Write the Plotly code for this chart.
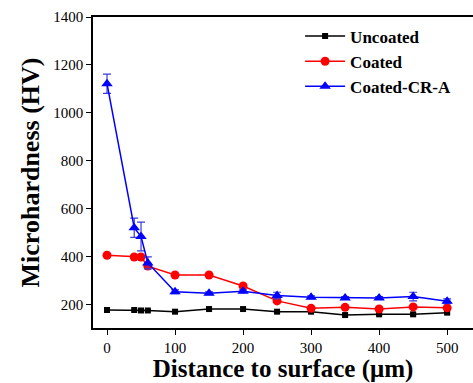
import plotly.graph_objects as go

distance = [0, 40, 50, 60, 100, 150, 200, 250, 300, 350, 400, 450, 500]
uncoated = [179, 179, 177, 177, 172, 183, 183, 172, 172, 158, 161, 161, 168]
coated = [407, 400, 400, 362, 325, 325, 279, 217, 186, 190, 183, 192, 188]
coated_cra = [1122, 522, 485, 375, 255, 249, 257, 239, 232, 229, 229, 235, 215]
cra_err = [40, 40, 60, 25, 8, 6, 6, 14, 6, 6, 6, 18, 10]
coated_err = [5, 4, 4, 6, 5, 5, 6, 6, 6, 5, 5, 8, 6]
uncoated_err = [3, 3, 3, 3, 3, 4, 4, 3, 3, 4, 4, 6, 5]

serif = "Liberation Serif"

fig = go.Figure()
fig.add_trace(go.Scatter(
    x=distance, y=uncoated, name="Uncoated", mode="lines+markers",
    line=dict(color="black", width=1.5),
    marker=dict(symbol="square", size=6, color="black"),
    error_y=dict(type="data", array=uncoated_err, color="black", thickness=1, width=3),
))
fig.add_trace(go.Scatter(
    x=distance, y=coated, name="Coated", mode="lines+markers",
    line=dict(color="red", width=1.5),
    marker=dict(symbol="circle", size=9, color="red"),
    error_y=dict(type="data", array=coated_err, color="red", thickness=1, width=3),
))
fig.add_trace(go.Scatter(
    x=distance, y=coated_cra, name="Coated-CR-A", mode="lines+markers",
    line=dict(color="blue", width=1.5),
    marker=dict(symbol="triangle-up", size=10, color="blue"),
    error_y=dict(type="data", array=cra_err, color="#3a3adf", thickness=1.2, width=4),
))

fig.update_layout(
    width=473, height=383,
    margin=dict(l=93, r=0, t=17, b=55),
    paper_bgcolor="white", plot_bgcolor="white",
    font=dict(family=serif, color="black", size=15),
    showlegend=True,
    legend=dict(
        x=0.545, y=0.995, xanchor="left", yanchor="top",
        bgcolor="rgba(0,0,0,0)",
        font=dict(family=serif, size=17, color="black", weight="bold"),
        tracegroupgap=0, itemwidth=40,
    ),
    xaxis=dict(
        range=[-20.6, 538], tickvals=[0, 100, 200, 300, 400, 500],
        showgrid=False, zeroline=False,
        showline=True, linecolor="black", linewidth=1.5, mirror=True,
        ticks="outside", ticklen=5, tickcolor="black", tickwidth=1.2,
        tickfont=dict(family=serif, size=15, color="black"),
        title=dict(text="Distance to surface (μm)", standoff=5,
                   font=dict(family=serif, size=25, weight="bold", color="black")),
    ),
    yaxis=dict(
        range=[104, 1400], tickvals=[200, 400, 600, 800, 1000, 1200, 1400],
        showgrid=False, zeroline=False,
        showline=True, linecolor="black", linewidth=1.5, mirror=False,
        ticks="outside", ticklen=5, tickcolor="black", tickwidth=1.2,
        tickfont=dict(family=serif, size=15, color="black"),
        title=dict(text="Microhardness (HV)", standoff=6,
                   font=dict(family=serif, size=26, weight="bold", color="black")),
    ),
)

fig.write_html("out.html")
